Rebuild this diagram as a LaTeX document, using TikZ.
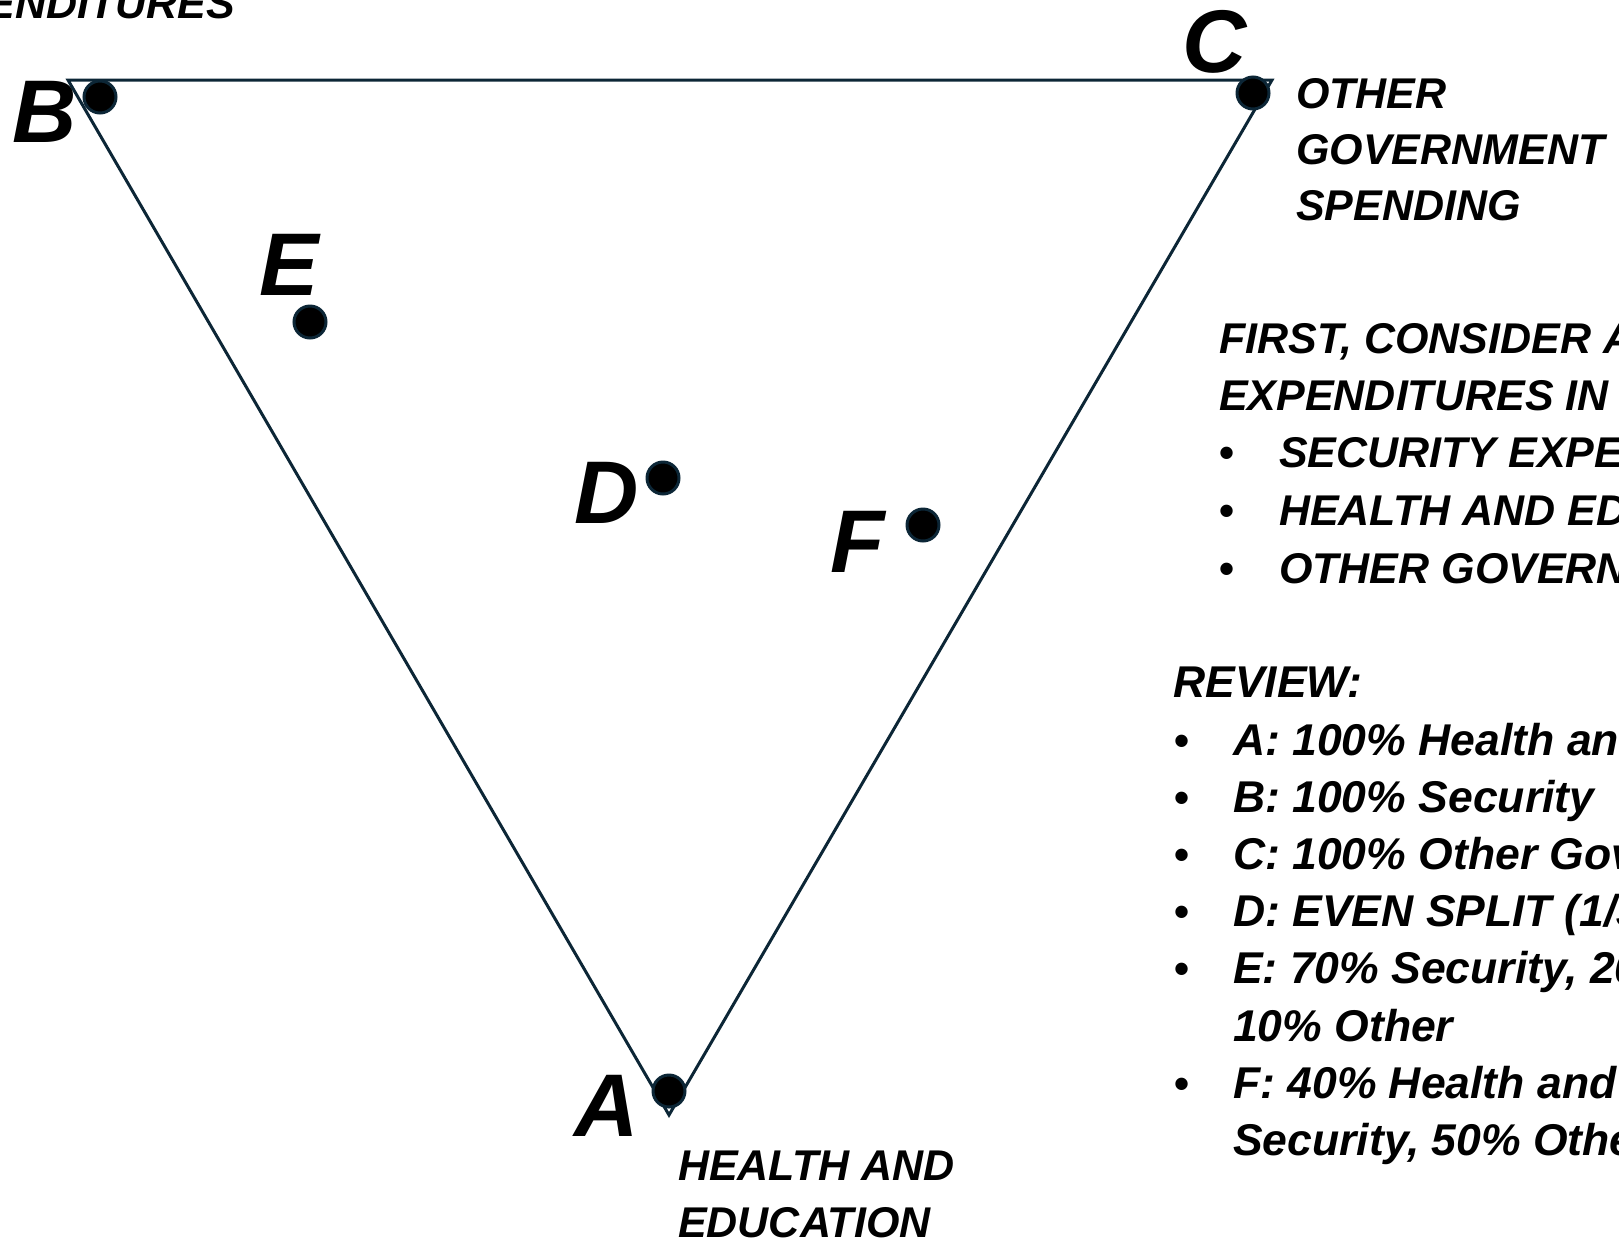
\documentclass[tikz,border=0pt]{standalone}
\usepackage{fontspec}
\setmainfont{Liberation Sans}
\definecolor{navy}{HTML}{0C2636}
\begin{document}
\begin{tikzpicture}[x=1pt,y=-1pt,
  dot/.style={circle,fill=black,draw=navy,line width=3pt,minimum size=32pt,inner sep=0pt},
  big/.style={inner sep=0pt,anchor=base west,font=\fontsize{89}{89}\selectfont\bfseries\itshape},
  txt/.style={inner sep=0pt,anchor=base west,font=\fontsize{43}{57}\selectfont\bfseries\itshape},
  rtxt/.style={inner sep=0pt,anchor=base west,font=\fontsize{44.5}{57}\selectfont\bfseries\itshape},
  bul/.style={inner sep=0pt,anchor=base,font=\fontsize{43}{57}\selectfont\bfseries},
  edge/.style={draw=navy,line width=3pt}]
\useasboundingbox (0,0) rectangle (1619,1243);
\clip (0,0) rectangle (1619,1243);
% triangle corners
\coordinate (tB) at (68,80);
\coordinate (tC) at (1272,80);
\coordinate (tA) at (669,1115);
\draw[edge] (tB) -- (tC) -- (tA) -- cycle;
% dots
\node[dot] (dB) at (100,97) {};
\node[dot] (dC) at (1253,93) {};
\node[dot] (dA) at (669,1091) {};
\node[dot] (dD) at (663,478) {};
\node[dot] (dE) at (310,322) {};
\node[dot] (dF) at (923,525) {};
% corner letters
\node[big] (lB) at (12,142) {B};
\node[big] (lC) at (1182,72) {C};
\node[big] (lA) at (574,1136) {A};
\node[big] (lD) at (574,523) {D};
\node[big] (lE) at (259,295) {E};
\node[big] (lF) at (830,572) {F};
% axis labels
\node[txt,anchor=base east] (secl) at (235,18) {EXPENDITURES};
\node[txt] (oth1) at (1296,108) {OTHER};
\node[txt] (oth2) at (1296,164) {GOVERNMENT};
\node[txt] (oth3) at (1296,220) {SPENDING};
\node[txt] (he1) at (678,1180) {HEALTH AND};
\node[txt] (he2) at (678,1237) {EDUCATION};
% first block
\node[txt] (f1) at (1219,353) {FIRST, CONSIDER ALL GOVERNMENT};
\node[txt] (f2) at (1219,410) {EXPENDITURES IN 3 AREAS:};
\node[bul] (fb1) at (1227,467) {•};
\node[txt] (f3) at (1279,467) {SECURITY EXPENDITURES};
\node[bul] (fb2) at (1227,525) {•};
\node[txt] (f4) at (1279,525) {HEALTH AND EDUCATION};
\node[bul] (fb3) at (1227,583) {•};
\node[txt] (f5) at (1279,583) {OTHER GOVERNMENT SPENDING};
% review block
\node[rtxt] (rv) at (1173,697) {REVIEW:};
\node[bul] (rb1) at (1182,755) {•};
\node[rtxt] (r1) at (1233,755) {A: 100\% Health and Education};
\node[bul] (rb2) at (1182,812) {•};
\node[rtxt] (r2) at (1233,812) {B: 100\% Security};
\node[bul] (rb3) at (1182,869) {•};
\node[rtxt] (r3) at (1233,869) {C: 100\% Other Government};
\node[bul] (rb4) at (1182,926) {•};
\node[rtxt] (r4) at (1233,926) {D: EVEN SPLIT (1/3 EACH)};
\node[bul] (rb5) at (1182,983) {•};
\node[rtxt] (r5) at (1233,983) {E: 70\% Security, 20\% Health,};
\node[rtxt] (r5b) at (1233,1041) {10\% Other};
\node[bul] (rb6) at (1182,1098) {•};
\node[rtxt] (r6) at (1233,1098) {F: 40\% Health and Education, 10\%};
\node[rtxt] (r6b) at (1233,1155) {Security, 50\% Other};
\end{tikzpicture}
\end{document}
